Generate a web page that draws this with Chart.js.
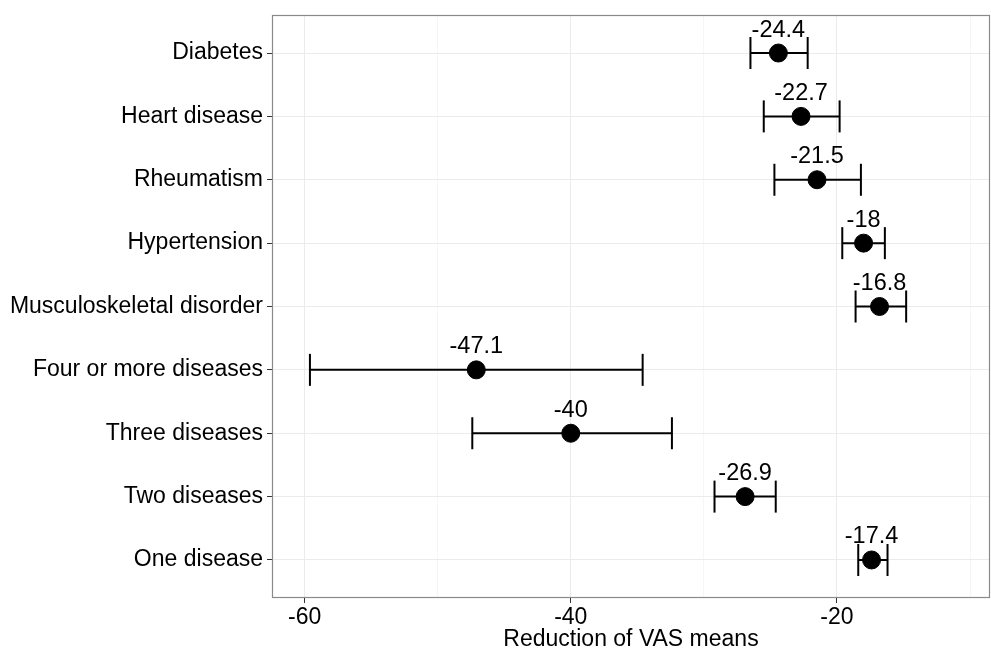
<!DOCTYPE html>
<html>
<head>
<meta charset="utf-8">
<script src="https://cdn.jsdelivr.net/npm/chart.js@4.4.1/dist/chart.umd.min.js"></script>
<style>
  html, body { margin: 0; padding: 0; background: #fff; }
  #wrap { width: 991px; height: 653px; }
</style>
</head>
<body>
<div id="wrap"><canvas id="c" width="991" height="653"></canvas></div>
<script>
const categories = ['Diabetes', 'Heart disease', 'Rheumatism', 'Hypertension', 'Musculoskeletal disorder', 'Four or more diseases', 'Three diseases', 'Two diseases', 'One disease'];
const means = [-24.4, -22.7, -21.5, -18, -16.8, -47.1, -40, -26.9, -17.4];
const lower = [-26.5, -25.5, -24.7, -19.6, -18.6, -59.6, -47.4, -29.2, -18.4];
const upper = [-22.2, -19.8, -18.2, -16.4, -14.8, -34.6, -32.4, -24.6, -16.2];
const xTickLabels = [-60, -40, -20];
const xTitle = 'Reduction of VAS means';

const FONT = "'Liberation Sans', Arial, sans-serif";

const errorSets = categories.map((c, i) => ({
  label: c + ' CI',
  data: [{x: lower[i], y: i}, {x: upper[i], y: i}],
  showLine: true,
  borderColor: '#000',
  borderWidth: 2,
  pointStyle: 'line',
  rotation: 90,
  pointRadius: 16,
  pointBorderWidth: 2,
  pointBorderColor: '#000',
  pointHoverRadius: 16,
  order: 1
}));

const meanSet = {
  label: 'Mean',
  data: means.map((m, i) => ({x: m, y: i})),
  showLine: false,
  pointStyle: 'circle',
  pointRadius: 9,
  pointBackgroundColor: '#000',
  pointBorderColor: '#000',
  pointBorderWidth: 1,
  order: 0
};

const labelPlugin = {
  id: 'valueLabels',
  afterDatasetsDraw(chart) {
    const ctx = chart.ctx;
    const xs = chart.scales.x, ys = chart.scales.y;
    ctx.save();
    ctx.fillStyle = '#000';
    ctx.font = '23.5px ' + FONT;
    ctx.textAlign = 'center';
    ctx.textBaseline = 'middle';
    means.forEach((m, i) => {
      ctx.fillText(String(m), xs.getPixelForValue(m), ys.getPixelForValue(i) - 23);
    });
    ctx.restore();
  }
};

const borderPlugin = {
  id: 'panelBorder',
  afterDraw(chart) {
    const a = chart.chartArea, ctx = chart.ctx;
    ctx.save();
    ctx.strokeStyle = '#8a8a8a';
    ctx.lineWidth = 1.2;
    ctx.strokeRect(a.left + 0.5, a.top + 0.5, a.right - a.left - 1, a.bottom - a.top - 1);
    ctx.restore();
  }
};

new Chart(document.getElementById('c'), {
  type: 'scatter',
  data: { datasets: [...errorSets, meanSet] },
  options: {
    responsive: false,
    animation: false,
    layout: { autoPadding: false, padding: { top: 15, right: 1, left: 0, bottom: 0 } },
    plugins: { legend: { display: false }, tooltip: { enabled: false } },
    scales: {
      x: {
        type: 'linear',
        min: -62.45,
        max: -8.5,
        border: { display: false },
        grid: {
          color: (c) => (c.tick && xTickLabels.includes(c.tick.value)) ? '#ebebeb' : '#f4f4f4',
          lineWidth: (c) => (c.tick && xTickLabels.includes(c.tick.value)) ? 1 : 0.8,
          tickColor: (c) => (c.tick && xTickLabels.includes(c.tick.value)) ? '#333' : 'rgba(0,0,0,0)',
          tickLength: 5,
          drawTicks: true
        },
        ticks: {
          stepSize: 10,
          includeBounds: false,
          autoSkip: false,
          maxRotation: 0,
          padding: 1,
          color: '#000',
          font: { family: FONT, size: 23 },
          callback: (v) => xTickLabels.includes(v) ? String(v) : ''
        },
        title: {
          display: true,
          text: xTitle,
          color: '#000',
          font: { family: FONT, size: 23 },
          padding: { top: 0, bottom: 0 }
        },
        afterFit(scale) { scale.height = 55; scale.paddingRight = 0; scale.paddingLeft = 0; }
      },
      y: {
        type: 'linear',
        min: -0.6,
        max: 8.6,
        reverse: true,
        border: { display: false },
        grid: {
          color: '#ebebeb',
          lineWidth: 1,
          tickColor: '#333',
          tickLength: 5,
          drawTicks: true
        },
        ticks: {
          stepSize: 1,
          includeBounds: false,
          autoSkip: false,
          padding: 4,
          color: '#000',
          font: { family: FONT, size: 23 },
          callback: (v) => Number.isInteger(v) ? categories[v] : ''
        },
        afterFit(scale) { scale.width = 272; scale.paddingTop = 0; scale.paddingBottom = 0; }
      }
    }
  },
  plugins: [labelPlugin, borderPlugin]
});
</script>
</body>
</html>
